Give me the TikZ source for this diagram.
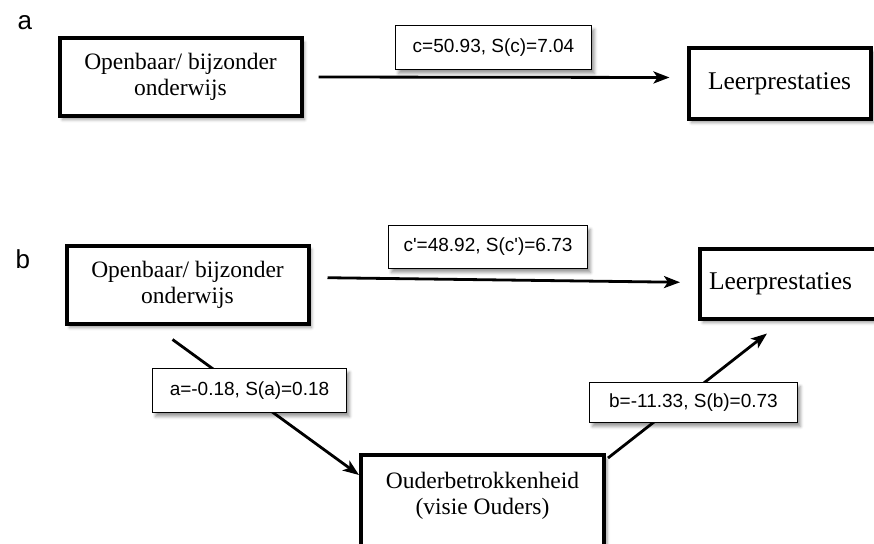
\documentclass[tikz,border=0pt]{standalone}
\usepackage{fontspec}
\setmainfont{Liberation Serif}
\newfontfamily\labelfont{Liberation Sans}
\usetikzlibrary{positioning, arrows.meta, shadows.blur}

\begin{document}
\begin{tikzpicture}[
    x=1pt, y=-1pt,
    varbox/.style={draw, line width=4pt, fill=white, align=center, inner sep=0pt,
        font=\fontsize{23.5}{26}\selectfont,
        blur shadow={shadow xshift=3pt, shadow yshift=-4pt, shadow blur radius=3pt, shadow opacity=40}},
    coefbox/.style={draw, line width=1.2pt, fill=white, inner sep=0pt,
        font=\labelfont\fontsize{19}{22}\selectfont,
        blur shadow={shadow xshift=3pt, shadow yshift=-4pt, shadow blur radius=3pt, shadow opacity=40}},
    path_arrow/.style={line width=2.8pt, -{Stealth[length=16pt, width=12pt, inset=4pt]}},
    panel_tag/.style={anchor=base west, font=\labelfont\fontsize{26}{30}\selectfont}
]
\useasboundingbox (0,0) rectangle (874,543);

% ==========================================
% a: totaal effect
\node[panel_tag] (tagA) at (14,30) {a};
\node[varbox, minimum width=242pt, minimum height=77pt] (schoolA) at (180.5,77) {Openbaar/ bijzonder\\onderwijs};
\node[varbox, minimum width=182pt, minimum height=70pt, font=\fontsize{25.5}{28}\selectfont] (scoreA) at (779.5,83.5) {Leerprestaties};

\draw[path_arrow, shorten <=15pt, shorten >=17pt] (schoolA.east) -- ([yshift=6pt]scoreA.west);
\node[coefbox, minimum width=196pt, minimum height=44pt] (effC) at (493.5,47.5) {c=50.93, S(c)=7.04};

% ==========================================
% b: mediatie via ouderbetrokkenheid
\node[panel_tag] (tagB) at (12,268) {b};
\node[varbox, minimum width=242pt, minimum height=78pt] (schoolB) at (187.5,284.5) {Openbaar/ bijzonder\\onderwijs};
\node[varbox, anchor=west, align=left, text width=165pt, inner xsep=9pt, minimum height=70pt, font=\fontsize{25.5}{28}\selectfont] (scoreB) at (698,283.5) {Leerprestaties};
\node[varbox, anchor=north, inner ysep=17pt, text depth=40pt, minimum width=243pt] (parents) at (482.5,453) {Ouderbetrokkenheid\\(visie Ouders)};

\draw[path_arrow, shorten <=17pt, shorten >=18pt] ([yshift=7pt]schoolB.east) -- ([yshift=1pt]scoreB.west);
\draw[path_arrow] ([xshift=-15pt, yshift=-14pt]schoolB.south) -- ([yshift=-22pt]parents.north west);
\draw[path_arrow] ([xshift=2pt, yshift=-5pt]parents.north east) -- ([xshift=69pt, yshift=-13pt]scoreB.south west);

\node[coefbox, minimum width=199pt, minimum height=43pt] (effCp) at (488,247) {c'=48.92, S(c')=6.73};
\node[coefbox, minimum width=194pt, minimum height=44pt] (effA) at (249.5,390.5) {a=-0.18, S(a)=0.18};
\node[coefbox, minimum width=208pt, minimum height=40pt] (effB) at (693.5,402.5) {b=-11.33, S(b)=0.73};

\end{tikzpicture}
\end{document}
